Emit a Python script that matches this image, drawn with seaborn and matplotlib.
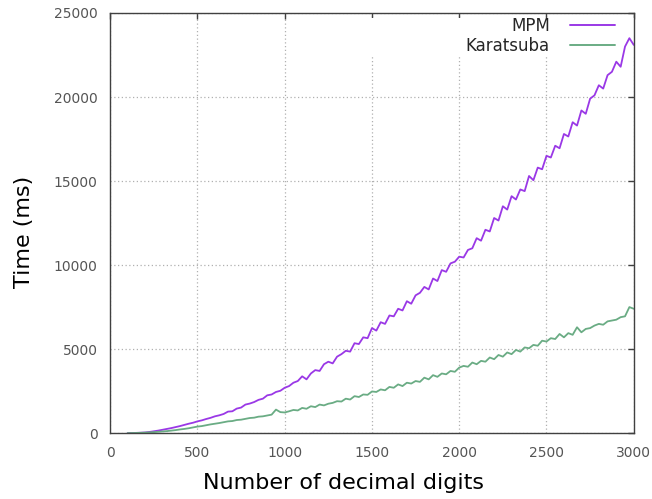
import numpy as np
import pandas as pd
import seaborn as sns
import matplotlib.pyplot as plt
from matplotlib.patches import Rectangle


"""
1. Data read off the chart (time in ms, every 25 digits)
"""
digits = list(range(100, 3001, 25))

mpm_ms = [
    0, 5, 15, 25, 40, 70, 110, 150, 200, 250, 300, 360, 420, 490, 560, 620,
    700, 760, 840, 910, 1000, 1060, 1140, 1280, 1300, 1460, 1520, 1700, 1760,
    1850, 1980, 2050, 2250, 2300, 2450, 2520, 2700, 2800, 3000, 3100, 3380,
    3200, 3550, 3750, 3700, 4100, 4250, 4150, 4550, 4700, 4900, 4850, 5350,
    5300, 5700, 5650, 6250, 6100, 6600, 6500, 7000, 6950, 7400, 7300, 7850,
    7700, 8200, 8350, 8700, 8550, 9200, 9050, 9700, 9600, 10100, 10200, 10500,
    10450, 10900, 11000, 11600, 11450, 12100, 12000, 12800, 12650, 13500,
    13300, 14100, 13900, 14500, 14400, 15300, 15050, 15800, 15700, 16500,
    16400, 17100, 16950, 17800, 17650, 18500, 18300, 19200, 19000, 19900,
    20100, 20700, 20500, 21300, 21500, 22100, 21800, 23000, 23500, 23100]

karatsuba_ms = [
    0, 5, 10, 20, 30, 45, 60, 80, 100, 120, 150, 180, 220, 250, 290, 340,
    390, 420, 470, 520, 560, 600, 650, 700, 720, 780, 800, 850, 900, 920, 980,
    1000, 1050, 1100, 1400, 1250, 1230, 1300, 1380, 1350, 1500, 1450, 1600,
    1550, 1700, 1650, 1750, 1800, 1900, 1880, 2050, 2000, 2200, 2150, 2300,
    2280, 2480, 2450, 2600, 2550, 2750, 2700, 2900, 2800, 3000, 2950, 3100,
    3050, 3300, 3200, 3450, 3350, 3550, 3500, 3700, 3650, 3900, 4000, 3950,
    4200, 4100, 4300, 4250, 4500, 4400, 4650, 4550, 4800, 4700, 4950, 4850,
    5100, 5050, 5250, 5200, 5500, 5450, 5650, 5600, 5900, 5700, 5950, 5850,
    6300, 6000, 6200, 6250, 6400, 6500, 6450, 6650, 6700, 6750, 6900, 6950,
    7500, 7400]

series_names = ['MPM', 'Karatsuba']
series_colors = ['#9a38e6', '#6aac84']

x_ticks = [0, 500, 1000, 1500, 2000, 2500, 3000]
y_ticks = [0, 5000, 10000, 15000, 20000, 25000]

df = pd.concat([
    pd.DataFrame({'digits': digits, 'time': mpm_ms, 'method': 'MPM'}),
    pd.DataFrame({'digits': digits, 'time': karatsuba_ms, 'method': 'Karatsuba'}),
])


"""
2. Plot
"""
sns.set_style('white')
plt.rcParams['font.family'] = ['DejaVu Sans']

fig, ax = plt.subplots(figsize=(6.52, 4.99), dpi=100)
fig.subplots_adjust(left=0.169, right=0.972, bottom=0.132, top=0.974)

sns.lineplot(data=df, x='digits', y='time', hue='method',
             hue_order=series_names, palette=series_colors,
             linewidth=1.3, ax=ax, zorder=2)

ax.set_xlim(0, 3000)
ax.set_ylim(0, 25000)
ax.set_xticks(x_ticks)
ax.set_yticks(y_ticks)

# dotted gnuplot-like grid
ax.set_axisbelow(True)
ax.grid(True, linestyle=(0, (1, 2)), color='#b0b0b0', linewidth=0.9)

# white key box that hides the grid behind the legend
ax.add_patch(Rectangle((0.45, 0.9), 0.55, 0.088, transform=ax.transAxes,
                       facecolor='white', edgecolor='none', zorder=1))

for side in ['top', 'right', 'bottom', 'left']:
    ax.spines[side].set_visible(True)
    ax.spines[side].set_color('#404040')
    ax.spines[side].set_linewidth(1.0)

ax.tick_params(direction='in', length=4, width=1, color='#404040',
               top=True, right=True, labelsize=10, labelcolor='#555555', pad=9)

ax.set_xlabel('Number of decimal digits', fontsize=16, color='black')
ax.set_ylabel('Time (ms)', fontsize=16, color='black')
ax.xaxis.set_label_coords(0.445, -0.119)
ax.xaxis.label.set_va('center')
ax.yaxis.set_label_coords(-0.165, 0.479)
ax.yaxis.label.set_va('center')

leg = ax.legend(loc='upper right', bbox_to_anchor=(0.964, 0.99),
                frameon=False, markerfirst=False, fontsize=12,
                handlelength=2.7, handletextpad=1.2, labelspacing=0.1,
                borderpad=0, borderaxespad=0)
for line in leg.get_lines():
    line.set_linewidth(1.4)

plt.savefig('out.png', dpi=100)
